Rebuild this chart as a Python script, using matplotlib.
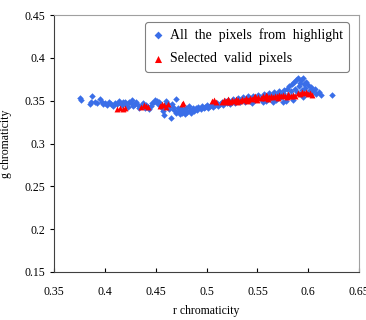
import matplotlib.pyplot as plt

plt.rcParams['font.family'] = ['Liberation Serif', 'DejaVu Serif']

# All the pixels from highlight (r, g)
blue_r = [0.376, 0.377, 0.385, 0.386, 0.387, 0.390, 0.392, 0.395, 0.397, 0.398,
          0.400, 0.402, 0.404, 0.406, 0.408, 0.410, 0.412, 0.414, 0.415, 0.417,
          0.418, 0.420, 0.421, 0.423, 0.424, 0.426, 0.427, 0.428, 0.430, 0.431,
          0.433, 0.434, 0.436, 0.437, 0.439, 0.440, 0.442, 0.443, 0.445, 0.446,
          0.448, 0.449, 0.451, 0.452, 0.453, 0.455, 0.456, 0.457, 0.458, 0.459,
          0.460, 0.461, 0.462, 0.463, 0.465, 0.466, 0.467, 0.468, 0.470, 0.470,
          0.472, 0.473, 0.474, 0.475, 0.476, 0.478, 0.479, 0.480, 0.481, 0.483,
          0.484, 0.485, 0.487, 0.488, 0.490, 0.491, 0.492, 0.494, 0.495, 0.497,
          0.498, 0.500,
          0.501, 0.503, 0.505, 0.506, 0.508, 0.510, 0.511, 0.513, 0.515, 0.516,
          0.518, 0.520, 0.521, 0.523, 0.525, 0.526, 0.528, 0.530, 0.531, 0.533,
          0.535, 0.536, 0.538, 0.540, 0.541, 0.543, 0.545, 0.546, 0.548, 0.550,
          0.551, 0.553, 0.555, 0.556, 0.558, 0.560, 0.561, 0.563, 0.565, 0.566,
          0.568, 0.570, 0.571, 0.573, 0.575, 0.576, 0.578, 0.579, 0.580, 0.581,
          0.583, 0.584, 0.585, 0.586, 0.587, 0.588, 0.589, 0.590, 0.591, 0.592,
          0.593, 0.594, 0.595, 0.596, 0.597, 0.598, 0.599, 0.600, 0.602, 0.603,
          0.605, 0.607, 0.608, 0.610, 0.612, 0.623,
          0.545, 0.555, 0.565, 0.575, 0.585, 0.595, 0.560, 0.570]
blue_g = [0.353, 0.351, 0.346, 0.349, 0.355, 0.348, 0.347, 0.352, 0.349, 0.346,
          0.347, 0.345, 0.349, 0.346, 0.344, 0.347, 0.346, 0.350, 0.347, 0.345,
          0.349, 0.348, 0.345, 0.343, 0.349, 0.347, 0.351, 0.344, 0.346, 0.348,
          0.345, 0.342, 0.344, 0.347, 0.341, 0.345, 0.343, 0.340, 0.344, 0.347,
          0.349, 0.351, 0.350, 0.346, 0.348, 0.344, 0.342, 0.338, 0.333, 0.345,
          0.350, 0.347, 0.343, 0.340, 0.330, 0.346, 0.343, 0.339, 0.352, 0.336,
          0.341, 0.338, 0.334, 0.342, 0.336, 0.339, 0.335, 0.341, 0.337, 0.344,
          0.339, 0.336, 0.341, 0.338, 0.342, 0.339, 0.343, 0.340, 0.344, 0.341,
          0.343, 0.345,
          0.342, 0.344, 0.346, 0.343, 0.345, 0.347, 0.344, 0.346, 0.348, 0.345,
          0.350, 0.347, 0.351, 0.346, 0.349, 0.352, 0.347, 0.350, 0.353, 0.348,
          0.351, 0.354, 0.349, 0.352, 0.355, 0.350, 0.353, 0.356, 0.351, 0.354,
          0.357, 0.352, 0.355, 0.358, 0.350, 0.356, 0.359, 0.353, 0.357, 0.360,
          0.351, 0.358, 0.361, 0.354, 0.359, 0.362, 0.350, 0.364, 0.357, 0.367,
          0.361, 0.369, 0.355, 0.372, 0.364, 0.374, 0.360, 0.376, 0.367, 0.371,
          0.374, 0.362, 0.377, 0.369, 0.365, 0.372, 0.359, 0.368, 0.362, 0.366,
          0.361, 0.364, 0.358, 0.360, 0.357, 0.357,
          0.347, 0.348, 0.349, 0.349, 0.351, 0.354, 0.352, 0.353]

# Selected valid pixels (r, g)
red_r = [0.412, 0.415, 0.418, 0.420, 0.436, 0.438, 0.440, 0.442, 0.454, 0.456,
         0.458, 0.460, 0.462, 0.476, 0.477, 0.505, 0.507, 0.509, 0.515, 0.517,
         0.519, 0.521, 0.523, 0.525, 0.527, 0.529, 0.531, 0.533, 0.535, 0.537,
         0.539, 0.541, 0.543, 0.545, 0.547, 0.549, 0.551, 0.553, 0.555, 0.557,
         0.559, 0.561, 0.563, 0.565, 0.567, 0.569, 0.571, 0.573, 0.575, 0.577,
         0.579, 0.581, 0.583, 0.585, 0.587, 0.590, 0.592, 0.594, 0.596, 0.598,
         0.600, 0.602, 0.604, 0.520, 0.530, 0.540, 0.550, 0.560, 0.570, 0.580,
         0.548, 0.558]
red_g = [0.340, 0.341, 0.340, 0.341, 0.343, 0.345, 0.344, 0.343, 0.344, 0.346,
         0.345, 0.343, 0.346, 0.346, 0.347, 0.350, 0.351, 0.349, 0.349, 0.351,
         0.350, 0.352, 0.349, 0.351, 0.350, 0.352, 0.351, 0.350, 0.352, 0.351,
         0.353, 0.351, 0.353, 0.352, 0.354, 0.352, 0.354, 0.353, 0.355, 0.353,
         0.355, 0.354, 0.356, 0.354, 0.356, 0.355, 0.357, 0.355, 0.357, 0.356,
         0.354, 0.356, 0.355, 0.357, 0.356, 0.359, 0.358, 0.360, 0.359, 0.360,
         0.358, 0.359, 0.357, 0.348, 0.349, 0.350, 0.351, 0.352, 0.353, 0.358,
         0.356, 0.357]

x_ticks = [0.35, 0.4, 0.45, 0.5, 0.55, 0.6, 0.65]
x_labels = ['0.35', '0.4', '0.45', '0.5', '0.55', '0.6', '0.65']
y_ticks = [0.15, 0.2, 0.25, 0.3, 0.35, 0.4, 0.45]
y_labels = ['0.15', '0.2', '0.25', '0.3', '0.35', '0.4', '0.45']

fig = plt.figure(figsize=(3.66, 3.2), dpi=100)
ax = fig.add_axes([0.1475, 0.15, 0.834, 0.803])

ax.scatter(blue_r, blue_g, marker='D', s=11, color='#3A6EE8', linewidths=0,
           label='All  the  pixels  from  highlight')
ax.scatter(red_r, red_g, marker='^', s=18, color='#FF0000', linewidths=0,
           label='Selected  valid  pixels')

ax.set_xlim(0.35, 0.65)
ax.set_ylim(0.15, 0.45)
ax.set_xticks(x_ticks)
ax.set_xticklabels(x_labels)
ax.set_yticks(y_ticks)
ax.set_yticklabels(y_labels)
ax.tick_params(axis='x', direction='in', length=3, labelsize=8.5, pad=10)
ax.tick_params(axis='y', direction='out', length=3, labelsize=8.5)

for side in ['left', 'bottom']:
    ax.spines[side].set_color('#404040')
for side in ['top', 'right']:
    ax.spines[side].set_color('#A0A0A0')

ax.set_xlabel('r chromaticity', fontsize=8.5, labelpad=5)
ax.set_ylabel('g chromaticity', fontsize=8.5, labelpad=9)

leg = ax.legend(loc='upper right', fontsize=10, frameon=True, fancybox=True,
                handletextpad=0.35, borderpad=0.45, labelspacing=0.75,
                handlelength=1.0, markerscale=1.2,
                bbox_to_anchor=(0.99, 1.0))
leg.get_frame().set_edgecolor('#808080')
leg.get_frame().set_linewidth(0.8)
leg.get_frame().set_alpha(1.0)

fig.savefig('out.png', dpi=100)
